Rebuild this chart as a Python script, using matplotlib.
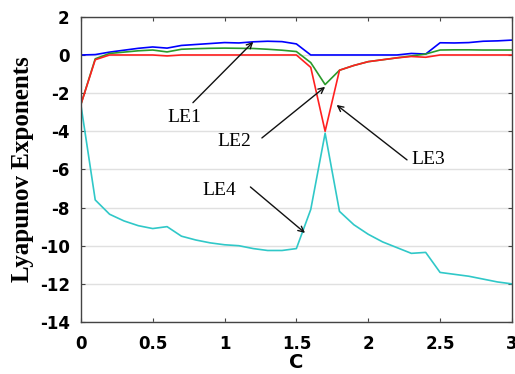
import numpy as np
import matplotlib.pyplot as plt

# parameter c sampled in steps of 0.1
c = np.round(np.arange(0, 3.01, 0.1), 1)

le1 = [0.0, 0.02, 0.15, 0.25, 0.35, 0.42, 0.36, 0.5, 0.55, 0.6, 0.65,
       0.63, 0.69, 0.72, 0.7, 0.58, 0.0, 0.0, 0.0, 0.0, 0.0,
       0.0, 0.0, 0.08, 0.05, 0.64, 0.63, 0.65, 0.72, 0.74, 0.78]
le2 = [-2.6, -0.2, 0.08, 0.15, 0.22, 0.26, 0.16, 0.3, 0.33, 0.35, 0.36,
       0.35, 0.34, 0.3, 0.25, 0.18, -0.4, -1.55, -0.8, -0.55, -0.35,
       -0.25, -0.15, -0.05, 0.05, 0.26, 0.27, 0.27, 0.26, 0.26, 0.26]
le3 = [-2.6, -0.25, 0.0, 0.0, 0.0, 0.0, -0.05, 0.0, 0.0, 0.0, 0.0,
       0.0, 0.0, 0.0, 0.0, 0.0, -0.65, -4.0, -0.8, -0.55, -0.35,
       -0.25, -0.15, -0.08, -0.12, 0.0, 0.0, 0.0, 0.0, 0.0, 0.0]
le4 = [-2.6, -7.6, -8.35, -8.7, -8.95, -9.1, -9.0, -9.5, -9.7, -9.85, -9.95,
       -10.0, -10.15, -10.25, -10.25, -10.15, -8.1, -4.1, -8.2, -8.9, -9.4,
       -9.8, -10.1, -10.4, -10.35, -11.4, -11.5, -11.6, -11.75, -11.9, -12.0]

xticks = [0, 0.5, 1, 1.5, 2, 2.5, 3]
xticklabels = ['0', '0.5', '1', '1.5', '2', '2.5', '3']
yticks = [2, 0, -2, -4, -6, -8, -10, -12, -14]
yticklabels = ['2', '0', '-2', '-4', '-6', '-8', '-10', '-12', '-14']

# label name, label position, arrow tail, arrow head
labels = ['LE1', 'LE2', 'LE3', 'LE4']
label_pos = [(0.72, -3.3), (1.07, -4.56), (2.415, -5.5), (0.96, -7.08)]
arrow_tail = [(0.78, -2.5), (1.26, -4.35), (2.27, -5.5), (1.18, -6.92)]
arrow_head = [(1.2, 0.69), (1.7, -1.67), (1.78, -2.62), (1.56, -9.33)]

plt.rcParams['axes.unicode_minus'] = False

fig = plt.figure(figsize=(5.15, 3.74), dpi=100)
ax = fig.add_axes([0.157, 0.139, 0.837, 0.816])

ax.plot(c, le1, color='#0000ff', lw=1.2)
ax.plot(c, le2, color='#2a9a2a', lw=1.2)
ax.plot(c, le3, color='#ff2020', lw=1.2)
ax.plot(c, le4, color='#30c8c8', lw=1.2)

ax.set_xlim(0, 3)
ax.set_ylim(-14, 2)
ax.set_xticks(xticks)
ax.set_xticklabels(xticklabels, fontsize=12, fontweight='bold', family='DejaVu Sans')
ax.set_yticks(yticks)
ax.set_yticklabels(yticklabels, fontsize=12, fontweight='bold', family='DejaVu Sans')
ax.tick_params(direction='in', top=True, right=True, length=3, width=0.8, color='#444444')
ax.tick_params(axis='x', pad=9)
ax.tick_params(axis='y', pad=8)
ax.yaxis.grid(True, color='#e0e0e0', lw=1)
ax.set_axisbelow(True)
for s in ax.spines.values():
    s.set_color('#444444')
    s.set_linewidth(1.0)

ax.set_xlabel('C', fontsize=14, fontweight='bold', family='DejaVu Sans', labelpad=0)
ax.set_ylabel('Lyapunov Exponents', fontsize=18, fontweight='bold', family='Liberation Serif', labelpad=4)

for name, pos, tail, head in zip(labels, label_pos, arrow_tail, arrow_head):
    ax.text(pos[0], pos[1], name, fontsize=14, family='Liberation Serif', ha='center', va='center')
    ax.annotate('', xy=head, xytext=tail,
                arrowprops=dict(arrowstyle='->', color='#111111', lw=1.0, shrinkA=0, shrinkB=0))

fig.savefig('out.png', dpi=100)
